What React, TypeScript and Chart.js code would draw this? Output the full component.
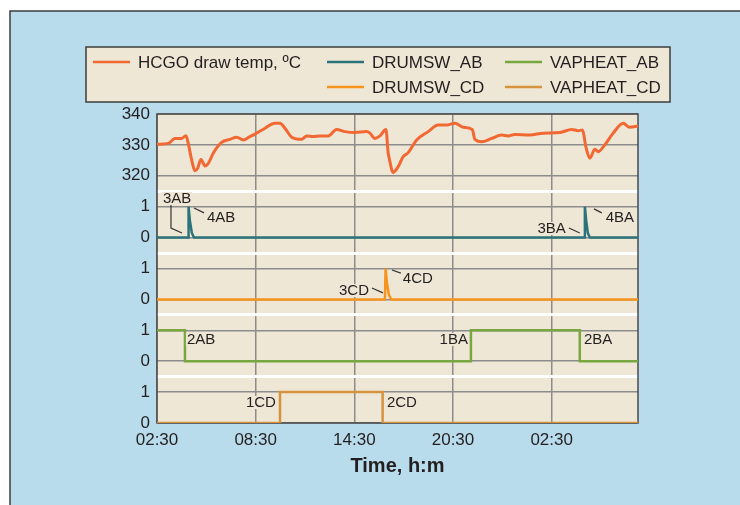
import React, { useEffect, useRef } from 'react';
import { Chart, registerables } from 'chart.js';

Chart.register(...registerables);

const FONT = '"Liberation Sans", Arial, Helvetica, sans-serif';
const TEXT = '#231f20';
const BLUE = '#b9dcec';
const BEIGE = '#efe7d5';

// x values are hours after 02:30 on the first day
const xTickLabels = ['02:30', '08:30', '14:30', '20:30', '02:30'];
const yTickLabels = ['0', '1', '0', '1', '0', '1', '0', '1', '320', '330', '340'];
// white separators between the stacked panels
const panelSeparators = [1.5, 3.5, 5.5, 7.5];

const tempHours = [
  0, 0.69, 1.09, 1.5, 1.76, 1.9, 2.11, 2.31, 2.47, 2.67, 2.92, 3.12, 3.42, 3.93, 4.44, 4.84,
  5.25, 5.65, 5.96, 6.57, 7.17, 7.48, 7.78, 8.19, 8.8, 9.1, 9.5, 9.91, 10.41, 10.92, 11.43,
  12.04, 12.75, 12.95, 13.25, 13.56, 13.92, 14.06, 14.1, 14.36, 14.67, 14.97, 15.28, 15.79,
  16.49, 17.1, 17.61, 18.12, 18.62, 19.17, 19.33, 19.74, 20.35, 20.95, 21.36, 21.76, 22.67,
  23.48, 24.5, 25.21, 25.61, 25.88, 26.08, 26.32, 26.63, 26.83, 27.23, 27.74, 28.35, 28.75, 29.25,
];
const tempValues = [
  330.2, 330.5, 332.1, 332.1, 333, 330.5, 325.1, 321.6, 322.4, 325.3, 323.2, 324, 327.3, 330.8,
  331.8, 332.5, 331.6, 332.7, 333.5, 335.4, 337, 337, 335.4, 332.5, 331.8, 332.9, 332.7, 332.9,
  332.9, 335, 334.3, 334, 334.3, 333.8, 332.1, 332.9, 335, 327.3, 326.2, 321.1, 323, 326.2,
  327.5, 331.6, 334.3, 336.4, 336.4, 337, 335.7, 335, 331.8, 331, 332.1, 333.2, 332.9, 333.4,
  333.2, 333.8, 334, 335, 334.6, 334.8, 329.4, 325.7, 328.6, 327.8, 330, 333.8, 337, 335.7, 336.1,
];

const drumAbHours = [0, 1.9, 1.92, 2.0, 2.12, 2.25, 26.0, 26.02, 26.1, 26.2, 26.32, 29.25];
const drumAbValues = [0, 0, 1, 0.55, 0.15, 0, 0, 1, 0.55, 0.15, 0, 0];

const drumCdHours = [0, 13.86, 13.9, 13.98, 14.1, 14.25, 29.25];
const drumCdValues = [0, 0, 1, 0.55, 0.15, 0, 0];

const vapAbHours = [0, 1.7, 19.09, 25.71, 29.25];
const vapAbValues = [1, 0, 1, 0, 0];

const vapCdHours = [0, 7.48, 13.72, 29.25];
const vapCdValues = [0, 1, 0, 0];

// event annotations (x in hours, y in stacked-axis units)
const annLabels = ['3AB', '4AB', '3BA', '4BA', '3CD', '4CD', '2AB', '1BA', '2BA', '1CD', '2CD'];
const annX = [0.36, 3.04, 24.86, 27.29, 12.89, 14.95, 1.82, 18.91, 25.96, 7.23, 13.98];
const annY = [7.28, 6.67, 6.31, 6.67, 4.3, 4.69, 2.72, 2.72, 2.72, 0.68, 0.68];
const annAlign = ['left', 'left', 'right', 'left', 'right', 'left', 'left', 'right', 'left', 'right', 'left'];
const leaderLines = [
  [[0.85, 7.12], [0.85, 6.31], [1.52, 6.15]],
  [[2.25, 6.96], [2.86, 6.8]],
  [[25.05, 6.31], [25.71, 6.15]],
  [[26.57, 6.93], [27.05, 6.8]],
  [[13.07, 4.37], [13.74, 4.21]],
  [[14.29, 4.95], [14.83, 4.85]],
];

const toPts = (xs: number[], ys: number[]) => xs.map((x, i) => ({ x, y: ys[i] }));

const backgroundPlugin = {
  id: 'bg',
  beforeDraw(chart: any) {
    const { ctx, chartArea: a } = chart;
    ctx.save();
    ctx.fillStyle = '#ffffff';
    ctx.fillRect(0, 0, chart.width, chart.height);
    ctx.fillStyle = BLUE;
    ctx.fillRect(10, 11, chart.width - 10, chart.height - 11);
    ctx.strokeStyle = '#3d3d3d';
    ctx.lineWidth = 1.5;
    ctx.beginPath();
    ctx.moveTo(10, chart.height);
    ctx.lineTo(10, 11);
    ctx.lineTo(chart.width, 11);
    ctx.stroke();
    ctx.fillStyle = BEIGE;
    ctx.fillRect(a.left, a.top, a.right - a.left, a.bottom - a.top);
    ctx.restore();
  },
  beforeDatasetsDraw(chart: any) {
    const { ctx, chartArea: a } = chart;
    ctx.save();
    ctx.strokeStyle = '#4a4a4a';
    ctx.lineWidth = 1.5;
    ctx.strokeRect(a.left, a.top, a.right - a.left, a.bottom - a.top);
    ctx.restore();
  },
};

const legendPlugin = {
  id: 'boxLegend',
  afterDraw(chart: any) {
    const { ctx } = chart;
    const lineX = [93, 327, 505, 327, 505];
    const rowY = [62, 62, 62, 87, 87];
    ctx.save();
    ctx.fillStyle = BEIGE;
    ctx.fillRect(86, 47, 584, 55);
    ctx.strokeStyle = '#3d3d3d';
    ctx.lineWidth = 1.5;
    ctx.strokeRect(86, 47, 584, 55);
    ctx.font = `17px ${FONT}`;
    ctx.textBaseline = 'middle';
    ctx.textAlign = 'left';
    chart.data.datasets.forEach((ds: any, i: number) => {
      ctx.strokeStyle = ds.borderColor;
      ctx.lineWidth = 2.5;
      ctx.beginPath();
      ctx.moveTo(lineX[i], rowY[i]);
      ctx.lineTo(lineX[i] + 37, rowY[i]);
      ctx.stroke();
      ctx.fillStyle = TEXT;
      ctx.fillText(ds.label, lineX[i] + 45, rowY[i] + 1);
    });
    ctx.restore();
  },
};

const annotationPlugin = {
  id: 'events',
  afterDatasetsDraw(chart: any) {
    const { ctx, scales } = chart;
    const xs = scales.x;
    const ys = scales.y;
    ctx.save();
    ctx.strokeStyle = '#333333';
    ctx.lineWidth = 1.2;
    leaderLines.forEach((pts) => {
      ctx.beginPath();
      pts.forEach(([px, py], j) => {
        const X = xs.getPixelForValue(px);
        const Y = ys.getPixelForValue(py);
        if (j === 0) ctx.moveTo(X, Y);
        else ctx.lineTo(X, Y);
      });
      ctx.stroke();
    });
    ctx.font = `15px ${FONT}`;
    ctx.textBaseline = 'middle';
    annLabels.forEach((t, i) => {
      const X = xs.getPixelForValue(annX[i]);
      const Y = ys.getPixelForValue(annY[i]);
      const w = ctx.measureText(t).width;
      const left = annAlign[i] === 'left' ? X : X - w;
      ctx.fillStyle = BEIGE;
      ctx.fillRect(left - 1, Y - 6, w + 2, 13);
      ctx.fillStyle = TEXT;
      ctx.textAlign = 'left';
      ctx.fillText(t, left, Y + 1);
    });
    ctx.restore();
  },
};

export default function App() {
  const ref = useRef<HTMLCanvasElement>(null);

  useEffect(() => {
    document.body.style.margin = '0';
    const canvas = ref.current;
    if (!canvas) return;
    const lineBase = { pointRadius: 0, borderWidth: 2.5, fill: false };
    const chart = new Chart(canvas, {
      type: 'line',
      data: {
        datasets: [
          {
            ...lineBase,
            label: 'HCGO draw temp, ºC',
            data: toPts(tempHours, tempValues),
            borderColor: '#f26833',
            borderWidth: 3,
            cubicInterpolationMode: 'monotone',
            yAxisID: 'yT',
          },
          { ...lineBase, label: 'DRUMSW_AB', data: toPts(drumAbHours, drumAbValues), borderColor: '#2b737a', yAxisID: 'yDab' },
          { ...lineBase, label: 'VAPHEAT_AB', data: toPts(vapAbHours, vapAbValues), borderColor: '#78a73f', stepped: 'before', yAxisID: 'yVab' },
          { ...lineBase, label: 'DRUMSW_CD', data: toPts(drumCdHours, drumCdValues), borderColor: '#f7941d', yAxisID: 'yDcd' },
          { ...lineBase, label: 'VAPHEAT_CD', data: toPts(vapCdHours, vapCdValues), borderColor: '#d6923e', stepped: 'before', yAxisID: 'yVcd' },
        ],
      } as any,
      options: {
        responsive: false,
        animation: false,
        layout: { padding: { top: 114, right: 102, bottom: 0, left: 0 } },
        plugins: { legend: { display: false }, tooltip: { enabled: false } },
        scales: {
          x: {
            type: 'linear',
            min: 0,
            max: 29.25,
            afterFit: (s: any) => { s.height = 82; },
            border: { display: false },
            grid: { color: '#8c8c8c', lineWidth: 1.5, drawTicks: false },
            ticks: {
              stepSize: 6,
              includeBounds: false,
              autoSkip: false,
              maxRotation: 0,
              padding: 7,
              color: TEXT,
              font: { family: FONT, size: 17 },
              callback: (v: any) => xTickLabels[Math.round(Number(v) / 6)] ?? '',
            },
            title: {
              display: true,
              text: 'Time, h:m',
              color: TEXT,
              font: { family: FONT, size: 20, weight: 'bold' },
              padding: { top: 4, bottom: 27 },
            },
          },
          y: {
            type: 'linear',
            position: 'left',
            min: 0,
            max: 10,
            afterFit: (s: any) => { s.width = 157; },
            border: { display: false },
            grid: {
              drawTicks: false,
              color: (c: any) => {
                const v = c.tick.value;
                if (Number.isInteger(v)) return '#8c8c8c';
                if (panelSeparators.includes(v)) return '#ffffff';
                return 'rgba(0,0,0,0)';
              },
              lineWidth: (c: any) => (Number.isInteger(c.tick.value) ? 1.5 : 3),
            },
            ticks: {
              stepSize: 0.5,
              autoSkip: false,
              padding: 7,
              color: TEXT,
              font: { family: FONT, size: 17 },
              callback: (v: any) => (Number.isInteger(Number(v)) ? yTickLabels[Number(v)] : ''),
            },
          },
          yT: { type: 'linear', display: false, min: 240, max: 340 },
          yDab: { type: 'linear', display: false, min: -6, max: 4 },
          yDcd: { type: 'linear', display: false, min: -4, max: 6 },
          yVab: { type: 'linear', display: false, min: -2, max: 8 },
          yVcd: { type: 'linear', display: false, min: 0, max: 10 },
        },
      } as any,
      plugins: [backgroundPlugin, legendPlugin, annotationPlugin],
    });
    return () => chart.destroy();
  }, []);

  return (
    <div style={{ width: 740, height: 505 }}>
      <canvas ref={ref} width={740} height={505} style={{ display: 'block' }} />
    </div>
  );
}
